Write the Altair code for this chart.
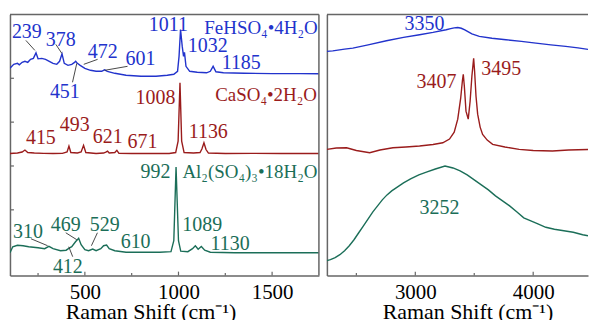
import altair as alt
import pandas as pd

BLUE = "#2233cc"
RED = "#9a1c1c"
GREEN = "#1b6e58"
FRAME = "#666666"
FONT = "Liberation Serif"

# ---------------- left panel (100-1750 cm-1) ----------------
fe_low_w = [100, 120, 140, 150, 165, 180, 195, 210, 225, 239, 250, 270, 290, 310, 330, 350, 365, 378, 390,
            410, 430, 445, 451, 460, 475, 500, 530, 560, 590, 605, 620, 660, 720, 800, 880, 940, 975, 995,
            1003, 1011, 1020, 1027, 1032, 1040, 1060, 1100, 1150, 1170, 1185, 1200, 1240, 1350, 1500, 1650, 1750]
fe_low_i = [208, 212, 213, 211.5, 214, 215, 214, 217, 218, 223.5, 217.5, 218, 217, 215, 213, 212, 215, 222.5, 213,
            211, 212, 214, 215, 213, 211, 208, 206, 205, 205, 206.5, 205, 203, 201, 200, 200, 201, 202, 205,
            220, 247, 230, 220, 224, 210, 205, 204, 203.5, 205, 210, 204.5, 203.5, 203, 202.7, 202.7, 202.5]

ca_low_w = [100, 140, 165, 180, 195, 230, 280, 330, 380, 405, 415, 425, 460, 480, 493, 505, 560, 600, 612, 621,
            630, 660, 671, 682, 750, 850, 950, 985, 998, 1008, 1017, 1030, 1080, 1115, 1125, 1136, 1147, 1160,
            1250, 1400, 1550, 1750]
ca_low_i = [122.5, 123, 124, 126, 123.5, 123, 122.7, 122.5, 122.7, 124, 130, 123.5, 123, 124, 130.7, 123.5, 122.5,
            123, 124, 125, 123, 123.5, 125.7, 122.7, 122.5, 122.5, 122.5, 123.5, 135, 193.5, 135, 123.5, 123,
            123.5, 127, 133.3, 126.5, 123, 122.5, 122.7, 122.5, 122.5]

al_low_w = [100, 115, 140, 170, 200, 250, 285, 308, 330, 370, 400, 414, 430, 450, 467, 480, 500, 520, 542, 560,
            585, 600, 616, 630, 660, 720, 800, 900, 960, 975, 987, 1000, 1012, 1050, 1075, 1090, 1105, 1122,
            1140, 1170, 1300, 1500, 1750]
al_low_i = [23, 29, 30.5, 30, 29, 28, 27, 29.3, 27, 25, 25.5, 27.3, 29, 34, 37.5, 31, 26, 25, 26.7, 25,
            27, 30, 30.7, 27, 25, 23.5, 23.5, 23.5, 24, 35, 109, 35, 24.5, 24, 27, 30, 26.5, 29.3,
            25.5, 23.5, 23, 23, 23]

# ---------------- right panel (2250-4465 cm-1) ----------------
fe_high_w = [2250, 2300, 2400, 2470, 2600, 2755, 2900, 3036, 3150, 3262, 3300, 3330, 3360, 3390, 3420, 3450,
             3480, 3543, 3650, 3769, 3900, 4023, 4150, 4276, 4380, 4465]
fe_high_i = [225, 225.5, 227.2, 228.3, 231.5, 235.7, 239, 241.7, 244, 246.7, 247.8, 248.6, 249, 248.2, 246.5, 244.5,
             242.5, 240, 238.2, 236.7, 235, 233.3, 231.5, 230, 228.5, 227]

ca_high_w = [2250, 2330, 2417, 2500, 2613, 2700, 2810, 2920, 3036, 3150, 3233, 3290, 3330, 3360, 3385, 3400,
             3407, 3416, 3430, 3449, 3465, 3480, 3495, 3503, 3515, 3529, 3550, 3571, 3610, 3656, 3760, 3881,
             4000, 4163, 4300, 4465]
ca_high_i = [126.7, 128, 128.3, 125.5, 123.3, 126, 128.3, 129, 130, 131.5, 133.3, 137, 144, 157, 178, 196,
             202, 190, 165, 157, 175, 200, 218, 205, 180, 162, 149, 141.7, 136, 131.7, 129, 126.7,
             125.5, 125, 126, 126.5]

al_high_w = [2250, 2280, 2320, 2360, 2400, 2440, 2480, 2520, 2560, 2600, 2640, 2680, 2720, 2760, 2800, 2850,
             2900, 2960, 3030, 3100, 3170, 3252, 3320, 3380, 3440, 3500, 3560, 3620, 3680, 3740, 3800, 3860,
             3920, 3980, 4040, 4107, 4180, 4260, 4340, 4420, 4465]
al_high_i = [15, 16, 18, 21, 25, 30, 36, 43, 50, 57, 64, 70, 76, 81, 85, 89,
             93, 97, 101, 104, 107, 110, 108, 105, 101, 96, 91, 86, 80, 75, 70, 64,
             58, 55, 52, 48.5, 46.5, 45, 43.5, 41, 40]

# ---------------- peak labels ----------------
low_lab_text = ["239", "378", "472", "601", "451", "1011", "1032", "1185",
                "1008", "415", "493", "621", "671", "1136",
                "992", "310", "469", "529", "610", "1089", "1130", "412"]
low_lab_w = [190, 371, 595, 797, 393, 946, 1156, 1335,
             877, 265, 446, 622, 808, 1159,
             877, 196, 398, 606, 771, 1127, 1276, 409]
low_lab_i = [238, 230, 218, 211, 178, 245, 224, 207,
             172, 132, 145, 133, 128, 138,
             98, 38, 45, 45, 28, 45, 26, 3]
low_lab_s = ["Fe"] * 8 + ["Ca"] * 6 + ["Al"] * 8

formula_text = ["FeHSO\u2084\u20224H\u2082O", "CaSO\u2084\u20222H\u2082O", "Al\u2082(SO\u2084)\u2083\u202218H\u2082O"]
formula_w = [1138, 1196, 1021]
formula_i = [242, 175, 98]
formula_s = ["Fe", "Ca", "Al"]

high_lab_text = ["3350", "3407", "3495", "3252"]
high_lab_w = [3078, 3180, 3729, 3205]
high_lab_i = [246, 188, 201, 62]
high_lab_s = ["Fe", "Ca", "Ca", "Al"]

# leader lines (from label to peak)
lead_w = [185, 345, 434, 494, 606, 212, 398, 567, 414]
lead_i = [236, 232, 194, 212, 206, 37, 43, 43, 29]
lead_w2 = [233, 377, 457, 568, 728, 301, 457, 535, 435]
lead_i2 = [226, 223, 213, 217, 210, 30, 36, 30, 19]

low_domain = [100, 1750]
high_domain = [2250, 4465]
i_domain = [0, 262]
low_major = [500, 1000, 1500]
low_minor = [250, 750, 1250]
high_major = [3000, 4000]
high_minor = [2500, 3500]
low_yticks = [66, 110, 154, 198]

series_scale = alt.Scale(domain=["Fe", "Ca", "Al"], range=[BLUE, RED, GREEN])
TITLE = "Raman Shift (cm\u207b\u00b9)"


def spec_df(ws, vals, name):
    return pd.DataFrame({"w": ws, "I": vals, "s": name})


def make_panel(domain, major, minor, spectra, labels, formulas, leads, yticks, width):
    xenc = alt.X("w:Q", scale=alt.Scale(domain=domain, nice=False, zero=False),
                 axis=alt.Axis(values=major, format="d", ticks=False, grid=False, domain=True,
                               domainColor=FRAME, domainWidth=1.5,
                               labelFont=FONT, labelFontSize=21, labelColor="black",
                               labelPadding=6, labelFlush=False,
                               title=TITLE, titleFont=FONT, titleFontSize=22,
                               titleFontWeight="normal", titleColor="black",
                               titleX=141, titleY=43, titleBaseline="alphabetic",
                               titleAlign="center"))
    yenc = alt.Y("I:Q", scale=alt.Scale(domain=i_domain, nice=False, zero=False),
                 axis=alt.Axis(domain=True, domainColor=FRAME, domainWidth=1.5, labels=False,
                               ticks=False, grid=False, title=None))
    layers = []
    spec = pd.concat(spectra, ignore_index=True)
    layers.append(alt.Chart(spec).mark_line(strokeWidth=1.4, clip=True).encode(
        x=xenc, y=yenc, color=alt.Color("s:N", scale=series_scale, legend=None), detail="s:N"))
    # frame: top and right border
    top = pd.DataFrame({"w": [domain[0]], "w2": [domain[1]], "I": [i_domain[1]], "I2": [i_domain[1]]})
    layers.append(alt.Chart(top).mark_rule(color=FRAME, strokeWidth=1.5).encode(
        x=xenc, x2="w2:Q", y=yenc, y2="I2:Q"))
    if width == "left":
        right = pd.DataFrame({"w": [domain[1]], "w2": [domain[1]], "I": [i_domain[0]], "I2": [i_domain[1]]})
        layers.append(alt.Chart(right).mark_rule(color=FRAME, strokeWidth=1.5).encode(
            x=xenc, x2="w2:Q", y=yenc, y2="I2:Q"))
    # inward x ticks
    tk = pd.DataFrame({"w": major + minor, "w2": major + minor, "I": [0] * (len(major) + len(minor)),
                       "I2": [4] * len(major) + [2.5] * len(minor)})
    layers.append(alt.Chart(tk).mark_rule(color=FRAME, strokeWidth=1.2).encode(
        x=xenc, x2="w2:Q", y=yenc, y2="I2:Q"))
    if yticks:
        span = domain[1] - domain[0]
        yt = pd.DataFrame({"w": [domain[0]] * len(yticks), "w2": [domain[0] + span * 4 / 310] * len(yticks),
                           "I": yticks, "I2": yticks})
        layers.append(alt.Chart(yt).mark_rule(color=FRAME, strokeWidth=1.2).encode(
            x=xenc, x2="w2:Q", y=yenc, y2="I2:Q"))
    if leads is not None:
        layers.append(alt.Chart(leads).mark_rule(color="#333333", strokeWidth=0.9).encode(
            x=xenc, x2="w2:Q", y=yenc, y2="I2:Q"))
    layers.append(alt.Chart(labels).mark_text(font=FONT, fontSize=20, baseline="alphabetic",
                                              align="center", clip=True).encode(
        x=xenc, y=yenc, text="t:N", color=alt.Color("s:N", scale=series_scale, legend=None)))
    if formulas is not None:
        layers.append(alt.Chart(formulas).mark_text(font=FONT, fontSize=19, baseline="alphabetic",
                                                    align="left", clip=True).encode(
            x=xenc, y=yenc, text="t:N", color=alt.Color("s:N", scale=series_scale, legend=None)))
    return alt.layer(*layers).properties(width=310 if width == "left" else 262, height=262)


low_spectra = [spec_df(fe_low_w, fe_low_i, "Fe"), spec_df(ca_low_w, ca_low_i, "Ca"),
               spec_df(al_low_w, al_low_i, "Al")]
high_spectra = [spec_df(fe_high_w, fe_high_i, "Fe"), spec_df(ca_high_w, ca_high_i, "Ca"),
                spec_df(al_high_w, al_high_i, "Al")]
low_labels = pd.DataFrame({"w": low_lab_w, "I": low_lab_i, "t": low_lab_text, "s": low_lab_s})
high_labels = pd.DataFrame({"w": high_lab_w, "I": high_lab_i, "t": high_lab_text, "s": high_lab_s})
formulas = pd.DataFrame({"w": formula_w, "I": formula_i, "t": formula_text, "s": formula_s})
leads = pd.DataFrame({"w": lead_w, "I": lead_i, "w2": lead_w2, "I2": lead_i2})

left = make_panel(low_domain, low_major, low_minor, low_spectra, low_labels, formulas, leads, low_yticks, "left")
right = make_panel(high_domain, high_major, high_minor, high_spectra, high_labels, None, None, None, "right")

chart = alt.hconcat(left, right, spacing=8, bounds="flush").properties(
    padding={"left": 9, "top": 13, "right": 0, "bottom": 0},
    background="white",
).configure_view(stroke=None)

chart.save("out.html", embed_options={"renderer": "svg", "actions": False})
